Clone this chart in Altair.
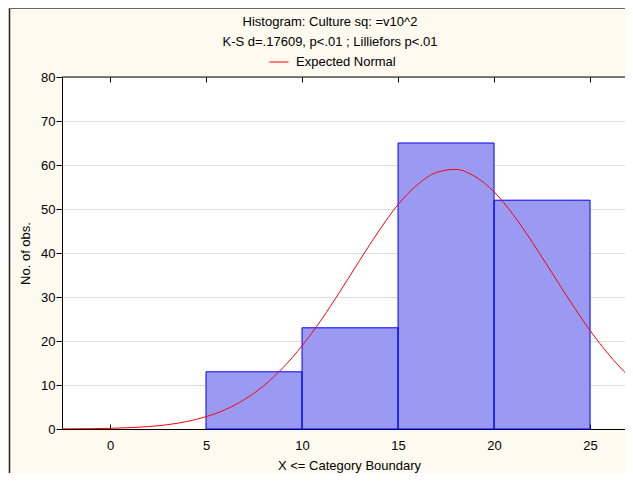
import altair as alt
import pandas as pd

# ---- data ----
bin_start = [5, 10, 15, 20]
bin_end = [10, 15, 20, 25]
counts = [13, 23, 65, 52]

curve_x = [-2.5, -2, -1, 0, 1, 2, 3, 4, 5, 6, 7, 8, 9, 10, 11, 12, 13, 14,
           15, 16, 17, 18, 19, 20, 21, 22, 23, 24, 25, 26, 27, 27.5]
curve_y = [0.03, 0.04, 0.08, 0.16, 0.3, 0.55, 0.98, 1.7, 2.8, 4.4, 6.7, 9.8,
           13.9, 18.9, 24.8, 31.4, 38.3, 45.0, 51.0, 55.5, 58.3, 59.0, 57.4,
           53.9, 48.7, 42.4, 35.6, 28.8, 22.4, 16.8, 12.1, 10.2]

x_ticks = [0, 5, 10, 15, 20, 25]
y_ticks = [0, 10, 20, 30, 40, 50, 60, 70, 80]

title_lines = ["Histogram: Culture sq: =v10^2",
               "K-S d=.17609, p<.01 ; Lilliefors p<.01"]
series_name = "Expected Normal"
x_title = "X <= Category Boundary"
y_title = "No. of obs."

FONT = "Liberation Sans"
FS = 13
W, H = 563, 352
PAD = {"left": 54, "top": 69, "right": 0, "bottom": 44}

bars = pd.DataFrame({"start": bin_start, "end": bin_end, "count": counts,
                     "base": [0] * len(counts)})
curve = pd.DataFrame({"x": curve_x, "y": curve_y,
                      "series": [series_name] * len(curve_x)})

xs = alt.Scale(domain=[-2.5, 26.82], nice=False, zero=False)
ys = alt.Scale(domain=[0, 80], nice=False)

yax = alt.Axis(values=y_ticks, tickSize=6, tickColor="black",
               domainColor="black", labelPadding=1, labelFontSize=FS,
               labelColor="black", grid=True, gridColor="#BDBDBD",
               gridDash=[1, 1], title=y_title, titlePadding=8,
               titleFontSize=FS, titleFontWeight="normal", titleColor="black")

ax_bottom = alt.Axis(orient="bottom", values=x_ticks, ticks=False,
                     domain=True, domainColor="black", labels=True,
                     labelPadding=10, labelFontSize=FS, labelColor="black",
                     title=x_title, titlePadding=7, titleX=287,
                     titleFontSize=FS,
                     titleFontWeight="normal", titleColor="black", grid=False)
ax_bottom_ticks = alt.Axis(orient="bottom", offset=-5, values=x_ticks,
                           ticks=True, tickSize=5, tickColor="black",
                           labels=False, domain=False, title=None, grid=False)
ax_top_ticks = alt.Axis(orient="top", offset=-5, values=x_ticks,
                        ticks=True, tickSize=5, tickColor="black",
                        labels=False, domain=False, title=None, grid=False)

fill_layer = alt.Chart(bars).mark_bar(color="#9A9AF2", strokeWidth=0).encode(
    x=alt.X("start:Q", scale=xs, axis=ax_bottom),
    x2="end:Q",
    y=alt.Y("count:Q", scale=ys, axis=yax),
    y2="base:Q",
)

outline_layer = alt.Chart(bars).mark_bar(
    fillOpacity=0, stroke="#0000FF", strokeWidth=1).encode(
    x=alt.X("start:Q", scale=xs, axis=ax_bottom_ticks),
    x2="end:Q",
    y=alt.Y("count:Q", scale=ys, axis=yax),
    y2="base:Q",
)

curve_layer = alt.Chart(curve).mark_line(
    strokeWidth=1, clip=True, interpolate="monotone").encode(
    x=alt.X("x:Q", scale=xs, axis=ax_top_ticks),
    y=alt.Y("y:Q", scale=ys, axis=yax),
    color=alt.Color("series:N", scale=alt.Scale(range=["#FF0000"]),
                    legend=alt.Legend(orient="none", legendX=207, legendY=-25,
                                      direction="horizontal",
                                      symbolType="stroke", symbolSize=361,
                                      symbolStrokeWidth=1, labelFontSize=FS,
                                      labelColor="black", labelOffset=7,
                                      title=None, padding=0)),
)

frame_df = pd.DataFrame({"k": [0]})
plot_top = alt.Chart(frame_df).mark_rule(color="black", strokeWidth=1).encode(
    x=alt.value(0), x2=alt.value(W), y=alt.value(0))
frame_left = alt.Chart(frame_df).mark_rule(color="#222222", strokeWidth=1.5).encode(
    x=alt.value(-52.5), y=alt.value(-69), y2=alt.value(H + PAD["bottom"]))
frame_top = alt.Chart(frame_df).mark_rule(color="#666666", strokeWidth=1).encode(
    x=alt.value(-53), x2=alt.value(W), y=alt.value(-68.5))

title1 = alt.Chart(pd.DataFrame({"t": [title_lines[0]]})).mark_text(
    font=FONT, fontSize=FS, color="black", align="center", baseline="middle"
).encode(text="t:N", x=alt.value(268), y=alt.value(-55))
title2 = alt.Chart(pd.DataFrame({"t": [title_lines[1]]})).mark_text(
    font=FONT, fontSize=FS, color="black", align="center", baseline="middle"
).encode(text="t:N", x=alt.value(268), y=alt.value(-35))

chart = alt.layer(
    fill_layer, outline_layer, curve_layer, plot_top, frame_left, frame_top,
    title1, title2
).resolve_axis(x="independent").properties(
    width=W, height=H, autosize="none", padding=PAD,
).configure(
    background="#FEFAF0", font=FONT
).configure_view(
    fill="white", strokeWidth=0
).configure_axis(
    labelFont=FONT, titleFont=FONT
).configure_legend(
    labelFont=FONT
)

chart.save("out.html", embed_options={"renderer": "svg", "actions": False})
